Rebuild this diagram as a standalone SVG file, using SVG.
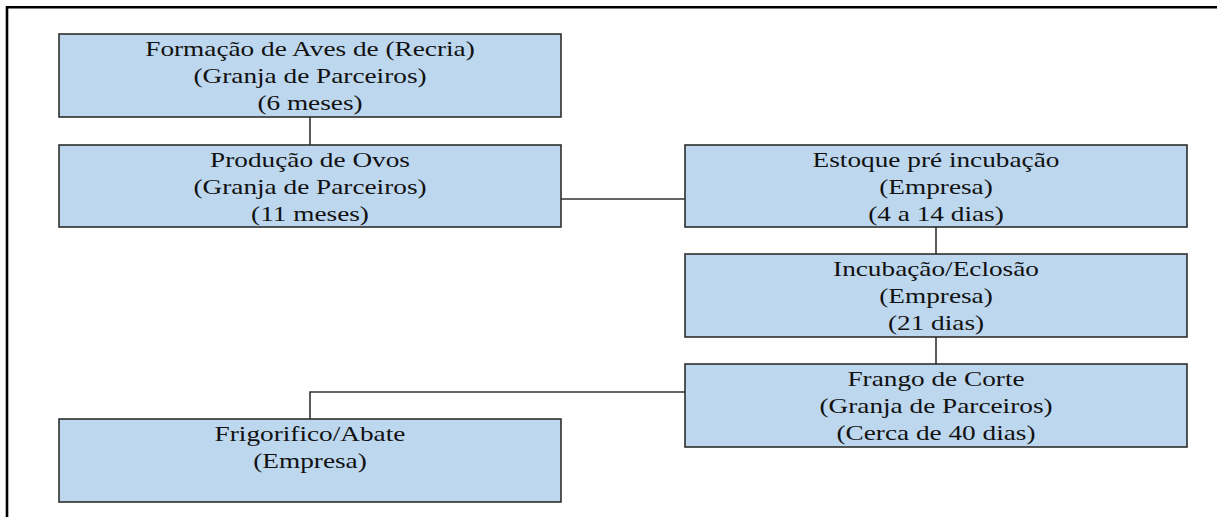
<svg xmlns="http://www.w3.org/2000/svg" width="1217" height="517" viewBox="0 0 1217 517">
<style>
.box{fill:#bdd7ee;stroke:#2e2e2e;stroke-width:1.6}
.c{fill:none;stroke:#333;stroke-width:1.6}
text{font-family:"Liberation Serif","Times New Roman",serif;font-size:22px;fill:#111;text-anchor:middle}
</style>
<rect width="1217" height="517" fill="#fff"/>
<path d="M7,517 V7.3 H1217" fill="none" stroke="#000" stroke-width="2.6"/>
<g id="connectors">
<path class="c" d="M310,117 V145"/>
<path class="c" d="M561,199 H685"/>
<path class="c" d="M936,227 V254"/>
<path class="c" d="M936,337 V364"/>
<path class="c" d="M685,392 H310 V419"/>
</g>
<g id="n1">
<rect class="box" x="59" y="34" width="502" height="83"/>
<g transform="translate(310,0) scale(1.24,1)"><text x="0" y="56">Formação de Aves de (Recria)</text><text x="0" y="83">(Granja de Parceiros)</text><text x="0" y="110">(6 meses)</text></g>
</g>
<g id="n2">
<rect class="box" x="59" y="145" width="502" height="82"/>
<g transform="translate(310,0) scale(1.24,1)"><text x="0" y="167">Produção de Ovos</text><text x="0" y="194">(Granja de Parceiros)</text><text x="0" y="221">(11 meses)</text></g>
</g>
<g id="n3">
<rect class="box" x="685" y="145" width="502" height="82"/>
<g transform="translate(936,0) scale(1.24,1)"><text x="0" y="167">Estoque pré incubação</text><text x="0" y="194">(Empresa)</text><text x="0" y="221">(4 a 14 dias)</text></g>
</g>
<g id="n4">
<rect class="box" x="685" y="254" width="502" height="83"/>
<g transform="translate(936,0) scale(1.24,1)"><text x="0" y="276">Incubação/Eclosão</text><text x="0" y="303">(Empresa)</text><text x="0" y="330">(21 dias)</text></g>
</g>
<g id="n5">
<rect class="box" x="685" y="364" width="502" height="83"/>
<g transform="translate(936,0) scale(1.24,1)"><text x="0" y="386">Frango de Corte</text><text x="0" y="413">(Granja de Parceiros)</text><text x="0" y="440">(Cerca de 40 dias)</text></g>
</g>
<g id="n6">
<rect class="box" x="59" y="419" width="502" height="83"/>
<g transform="translate(310,0) scale(1.24,1)"><text x="0" y="441">Frigorifico/Abate</text><text x="0" y="468">(Empresa)</text></g>
</g>
</svg>
